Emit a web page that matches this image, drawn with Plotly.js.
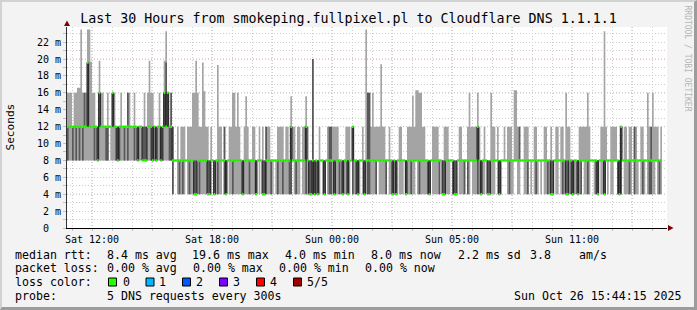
<!DOCTYPE html>
<html><head><meta charset="utf-8">
<script src="https://cdn.plot.ly/plotly-3.0.1.min.js"></script>
<style>
html,body{margin:0;padding:0;background:#f3f3f3;}
#wrap{position:relative;width:697px;height:310px;}
#chart{width:697px;height:310px;}
#frame{position:absolute;left:0;top:0;width:697px;height:310px;box-sizing:border-box;border-style:solid;border-width:2px 3px 3px 2px;border-color:#d2d2d2 #9c9c9c #9c9c9c #d2d2d2;pointer-events:none;}
</style></head>
<body><div id="wrap"><div id="chart"></div><div id="frame"></div></div>
<script>
// ---- data: 5 sorted DNS ping times per 5-minute step (ms), first step at Sat 10:45 ----
const lo = [
8,8,8,8,8,8,8,8,8,8, 8,8,8,8,8,8,8,8,8,8, 8,8,8,8,8,12,8,8,8,8, 8,8,8,8,8,8,8,8,8,8,
8,8,8,8,8,8,8,8,8,8, 8,8,8,8,8,8,8,8,8,8, 8,8,8,4,8,8,4,4,4,4, 4,8,4,4,4,4,4,4,4,4,
4,4,4,4,4,4,4,8,4,4, 4,4,4,8,4,4,8,4,4,4, 4,4,4,4,4,4,4,4,4,4, 4,4,4,4,8,4,8,4,4,4,
4,4,4,4,8,4,4,4,4,4, 4,4,4,4,4,8,4,4,4,4, 8,4,4,4,4,4,4,4,4,4, 4,4,8,4,4,8,4,4,4,4,
4,4,4,4,4,4,4,4,4,4, 8,4,4,4,4,4,8,4,4,4, 4,4,4,4,4,4,8,4,4,4, 4,4,8,4,4,4,4,4,8,4,
4,4,8,4,4,4,4,4,4,8, 4,4,4,4,4,4,4,4,8,4, 4,4,4,4,8,4,4,4,4,4, 8,4,4,4,8,4,4,4,4,8,
4,4,8,4,4,4,4,4,4,4, 4,8,4,4,4,4,4,8,4,4, 4,8,8,8,4,4,4,4,8,8, 4,4,8,8,4,4,4,8,4,8,
4,4,4,8,4,8,4,4,4,4, 4,4,8,4,4,8,4,4,4,4, 4,4,4,4,4,4,4,4,4,8, 4,4,4,4,8,8,4,4,4,8,
4,4,4,8,4,8,4,4,8,8, 4,4,4,8,4,4,4,4,4,8, 4,4,4,8,4,4,4,8,4,4, 4,4,4,8,4,4,4];
const lo2 = [
8,12,12,8,12,8,12,8,12,8, 12,12,12,12,12,12,8,12,8,12, 12,12,12,8,8,12,12,12,12,8, 8,8,12,12,8,12,8,12,12,12,
8,12,8,12,12,8,8,8,12,12, 8,8,12,8,12,12,8,8,12,12, 12,8,8,4,8,8,8,4,8,4, 8,8,8,4,8,8,4,4,8,4,
8,8,8,8,4,4,8,8,4,8, 4,8,8,8,4,4,8,8,8,4, 8,8,8,8,8,4,8,8,8,4, 8,8,8,4,8,8,8,4,4,4,
8,8,4,8,8,8,4,8,8,4, 8,8,8,4,4,8,8,4,8,8, 8,8,8,4,8,4,4,4,4,8, 4,8,8,8,4,8,8,4,4,8,
4,8,8,4,8,4,8,8,4,8, 8,4,8,4,4,8,8,8,4,8, 4,4,8,8,8,4,8,8,8,8, 8,4,8,8,8,4,8,4,8,8,
8,8,8,4,8,8,4,8,8,8, 8,4,8,8,8,8,4,4,8,8, 8,8,8,4,8,4,4,8,8,8, 8,4,4,4,8,8,8,8,4,8,
4,8,8,8,8,8,4,8,4,8, 8,8,4,4,8,8,8,8,8,4, 8,8,8,8,8,4,8,8,8,8, 8,8,8,8,8,8,4,8,8,8,
8,4,8,8,8,8,8,8,4,8, 4,4,8,8,8,8,8,4,8,4, 4,8,4,4,8,8,4,8,4,8, 8,8,4,8,8,8,8,4,4,8,
8,8,4,8,8,8,8,8,8,8, 4,4,4,8,8,8,8,4,8,8, 4,8,8,8,8,4,8,8,8,4, 4,8,8,8,8,4,8];
const med = [
12,12,12,12,12,12,12,12,12,12, 12,12,19.6,12,12,12,12,12,8,16, 12,12,12,12,12,12,12,16,12,12, 8,12,12,12,12,12,12,12,12,12,
12,12,8,12,12,8,8,8,12,12, 12,8,12,8,12,12,8,12,16,12, 16,12,12,8,8,8,8,8,8,8, 8,8,8,8,8,8,4,4,8,8,
8,8,8,8,4,4,8,8,4,8, 8,8,8,8,8,4,8,8,8,8, 8,8,8,8,8,4,8,8,8,8, 8,8,8,4,8,8,8,4,4,8,
8,8,8,8,8,8,8,8,8,8, 8,8,8,8,12,8,8,8,8,8, 8,8,8,12,8,4,4,8,4,8, 4,8,8,8,4,8,8,8,8,8,
4,8,8,8,8,4,8,8,4,8, 8,12,8,8,4,8,8,8,4,8, 8,8,8,8,8,8,8,8,8,8, 8,8,8,8,8,4,8,4,8,8,
8,8,8,4,8,8,8,8,8,8, 8,8,8,8,8,8,8,4,8,8, 8,8,8,8,8,4,4,8,8,8, 8,8,4,4,8,8,8,8,8,8,
8,8,8,8,8,8,12,8,4,8, 8,8,4,4,8,8,8,8,8,4, 8,8,8,8,8,8,8,8,8,8, 8,8,8,8,8,8,8,8,8,8,
8,8,8,8,8,8,8,8,8,8, 4,4,8,8,8,8,8,8,8,4, 4,8,8,4,8,8,4,8,8,8, 8,8,8,8,8,8,8,8,4,8,
8,8,4,8,8,8,8,8,8,8, 8,4,12,8,8,8,8,8,8,8, 8,8,8,8,8,8,8,8,8,8, 8,8,8,8,8,8,8];
const hi2 = [
12,12,12,12,12,12,12,12,12,12, 16,12,19.6,12,12,12,12,12,12,16, 12,12,12,12,12,12,12,16,12,12, 12,12,12,12,12,12,16,12,12,12,
12,12,12,12,12,12,12,12,12,12, 12,12,12,12,12,12,12,12,16,19.6, 16,12,16,12,8,8,8,8,8,8, 8,8,8,8,8,8,8,8,8,8,
8,8,8,8,8,8,8,8,8,8, 8,8,8,8,12,8,8,8,8,8, 8,8,8,8,8,8,8,8,8,8, 8,8,8,8,8,8,8,8,8,12,
8,8,8,8,8,8,8,8,8,8, 8,8,8,8,12,8,8,8,8,8, 8,8,8,12,8,8,8,20,8,8, 8,8,8,8,8,8,8,12,12,8,
8,8,8,8,8,8,8,8,8,8, 8,12,8,8,8,8,8,8,8,8, 16,16,8,8,8,8,8,8,8,8, 8,8,8,8,8,8,8,8,8,8,
8,8,8,8,8,8,8,8,8,8, 8,8,8,8,8,8,8,8,8,8, 8,8,8,8,8,8,8,8,8,8, 8,8,8,8,8,8,8,8,8,8,
8,8,8,8,8,8,12,8,8,8, 8,8,8,8,8,8,8,8,8,8, 8,8,8,8,8,8,8,8,8,8, 8,12,8,8,8,8,8,8,8,8,
8,8,8,8,8,8,8,8,8,8, 8,8,8,8,8,8,8,8,8,8, 8,8,8,8,8,8,8,8,8,8, 8,8,8,8,8,8,8,8,8,8,
8,8,8,8,8,8,8,8,8,8, 8,8,12,8,8,8,8,8,8,8, 12,8,8,8,8,8,8,8,8,8, 12,8,8,8,8,8,8];
const hi = [
16,16,16,12,16,16,16.6,16.6,23.5,16, 16,16,23.5,23.5,19.7,16,16,12,12,19.8, 16,16,12,12,16,12,12,16,16,12, 12,12,16,12,12,12,16,16,12,12,
16,12,12,12,12,12,16,12,16,19.8, 16,16,12,12,12,16,12,12,19.8,23.3, 16,12,16,12,8,8,12,8,12,12, 12,8,12,12,12,16,16,19.8,16,12,
12,19.6,16.2,12,12,8,12,8,8,8, 19.3,12,12,8,12,8,8,12,12,16, 16,12,16,12,8,8,12,15.6,12,8, 8,12,12,8,8,12,8,12,8,12,
12,12,8,8,8,8,12,12,12,12, 8,12,12,8,15.6,12,12,8,12,12, 8,12,12,15.6,12,8,8,20,8,8, 8,12,8,8,8,8,12,12,12,12,
12,12,12,8,8,8,8,12,12,12, 8,12,8,8,8,8,8,12,8,23.5, 16,16,12,16,12,12,12,12,19.4,12, 12,8,8,12,8,8,8,8,8,12,
12,8,8,8,12,12,12,15.7,12,16.3, 16.3,16,16,12,12,8,8,8,8,12, 12,12,12,8,8,8,12,12,12,8, 8,8,8,8,8,12,12,8,8,8,
12,16,12,12,12,12,16,12,8,8, 12,8,8,8,16,12,12,8,12,8, 8,8,12,8,12,12,12,8,16.3,16.3, 12,12,8,8,12,12,12,8,8,8,
12,12,8,8,8,8,12,12,8,8, 12,8,8,12,12,8,12,12,8,16, 12,12,8,8,8,8,8,12,12,12, 12,12,16,12,8,8,8,8,8,8,
12,12,23.3,12,8,8,12,12,12,12, 8,8,12,8,12,12,8,12,12,8, 12,12,8,8,12,12,8,8,16,12, 12,16,12,12,12,8,12];

const tickHours = [0, 6, 12, 18, 24];
const tickLabels = ['Sat 12:00', 'Sat 18:00', 'Sun 00:00', 'Sun 05:00', 'Sun 11:00'];
const yLabels = ['0\u00a0\u00a0','2\u00a0m','4\u00a0m','6\u00a0m','8\u00a0m','10\u00a0m','12\u00a0m','14\u00a0m','16\u00a0m','18\u00a0m','20\u00a0m','22\u00a0m'];
const lossNames = ['0','1','2','3','4','5/5'];
const lossColors = ['#26ff00','#00b8ff','#0059ff','#7e00ff','#ff0000','#a10000'];

// ---- geometry ----
const W = 697, H = 310, L = 67, R = 667, T = 27, B = 228;
const px = x => (x - L) / (R - L);
const py = y => (B - y) / (B - T);
const t0 = -1.25, step = 5 / 60;
const N = med.length;
const xs = Array.from({length: N + 1}, (_, i) => t0 + i * step);
const ext = a => a.concat([a[a.length - 1]]);

const base = {mode: 'lines', hoverinfo: 'skip', showlegend: false};
const traces = [
  Object.assign({x: xs, y: ext(lo), line: {width: 0, shape: 'hv'}}, base),
  Object.assign({x: xs, y: ext(hi), line: {width: 0, shape: 'hv'}, fill: 'tonexty', fillcolor: '#a4a4a4'}, base),
  Object.assign({x: xs, y: ext(lo2), line: {width: 0, shape: 'hv'}}, base),
  Object.assign({x: xs, y: ext(hi2), line: {width: 0, shape: 'hv'}, fill: 'tonexty', fillcolor: '#585858'}, base),
  Object.assign({x: xs, y: ext(med), line: {width: 1, shape: 'hv', color: '#1e1e1e'}}, base)
];
const gx = [], gy = [];
for (let i = 0; i < N; i++) { gx.push(xs[i], xs[i + 1], null); gy.push(med[i], med[i], null); }
traces.push(Object.assign({x: gx, y: gy, line: {width: 2.5, color: lossColors[0]}, connectgaps: false}, base));

// ---- axes ticks / grid ----
const xTickVals = [], xTickText = [];
for (let h = -1; h <= 28; h++) { xTickVals.push(h); const k = tickHours.indexOf(h); xTickText.push(k >= 0 ? tickLabels[k] : ''); }
const yTickVals = [], yTickText = [];
for (let v = 0; v <= 23; v++) { yTickVals.push(v); yTickText.push(v % 2 === 0 ? yLabels[v / 2] : ''); }

const gray = '#cdcdcd', red = '#e6a0a0', dash = '1px,2px';
const shapes = [];
for (let h = 0; h <= 27; h += 3) shapes.push({type: 'line', xref: 'x', yref: 'paper', x0: h, x1: h, y0: 1, y1: 0, layer: 'between', line: {color: red, width: 1, dash: dash}});
for (let v = 4; v <= 20; v += 4) shapes.push({type: 'line', xref: 'paper', yref: 'y', x0: 0, x1: 1, y0: v, y1: v, layer: 'between', line: {color: red, width: 1, dash: dash}});
// arrows
shapes.push({type: 'path', xref: 'paper', yref: 'paper', layer: 'above', fillcolor: '#7f0000', line: {width: 0},
  path: `M ${px(668)},${py(225)} L ${px(673.5)},${py(228)} L ${px(668)},${py(231)} Z`});
shapes.push({type: 'path', xref: 'paper', yref: 'paper', layer: 'above', fillcolor: '#7f0000', line: {width: 0},
  path: `M ${px(64)},${py(26)} L ${px(67)},${py(20.5)} L ${px(70)},${py(26)} Z`});
// legend colour boxes
const boxX = [108.5, 146, 182.5, 219.5, 256.5, 293.5];
lossColors.forEach((c, k) => shapes.push({type: 'rect', xref: 'paper', yref: 'paper', layer: 'above',
  x0: px(boxX[k]), x1: px(boxX[k] + 8), y0: py(286), y1: py(278), fillcolor: c, line: {color: '#000', width: 1}}));

const mono = 'DejaVu Sans Mono';
const ann = (text, x, y, opts) => Object.assign({text: text, xref: 'paper', yref: 'paper', x: px(x), y: py(y),
  xanchor: 'left', yanchor: 'middle', showarrow: false, borderpad: 0, borderwidth: 0,
  font: {family: mono, size: 11.6, color: '#000'}}, opts || {});
const annotations = [
  ann('Seconds', 10.5, 127, {xanchor: 'center', textangle: -90, font: {family: mono, size: 11.1, color: '#000'}}),
  ann('RRDTOOL / TOBI OETIKER', 687, 58.5, {xanchor: 'center', textangle: 90, font: {family: mono, size: 8, color: '#b5b5b5'}}),
  ann('median rtt:', 15.3, 254.5), ann('8.4 ms avg', 106.5, 254.5), ann('19.6 ms max', 191.8, 254.5),
  ann('4.0 ms min', 285.3, 254.5), ann('8.0 ms now', 371.5, 254.5), ann('2.2 ms sd', 457.5, 254.5),
  ann('3.8', 529.8, 254.5), ann('am/s', 578.5, 254.5),
  ann('packet loss:', 15.3, 268), ann('0.00 % avg', 106.5, 268), ann('0.00 % max', 192.5, 268),
  ann('0.00 % min', 278.5, 268), ann('0.00 % now', 364.5, 268),
  ann('loss color:', 15.3, 282.3),
  ann('probe:', 15.3, 295.5), ann('5 DNS requests every 300s', 106.5, 295.5),
  ann('Sun Oct 26 15:44:15 2025', 681.5, 295.5, {xanchor: 'right'})
];
const lossTextX = [122.5, 158.5, 196, 232.5, 270, 306.5];
lossNames.forEach((n, k) => annotations.push(ann(n, lossTextX[k], 282.3)));

const layout = {
  width: W, height: H,
  margin: {l: L, r: W - R, t: T, b: H - B, pad: 0},
  paper_bgcolor: '#f3f3f3', plot_bgcolor: '#ffffff',
  showlegend: false, hovermode: false,
  title: {text: 'Last 30 Hours from smokeping.fullpixel.pl to Cloudflare DNS 1.1.1.1',
    font: {family: mono, size: 13.3, color: '#000'}, x: 0.5, xref: 'container', xanchor: 'center',
    y: 1 - 18.7 / H, yref: 'container', yanchor: 'middle'},
  xaxis: {range: [t0, t0 + 30], tickmode: 'array', tickvals: xTickVals, ticktext: xTickText,
    showgrid: true, gridcolor: gray, griddash: dash, gridwidth: 1, zeroline: false,
    showline: true, linecolor: '#000', linewidth: 1, ticks: 'outside', ticklen: 2, tickcolor: '#c0c0c0',
    tickfont: {family: mono, size: 10, color: '#000'}, fixedrange: true},
  yaxis: {range: [0, 23.8], tickmode: 'array', tickvals: yTickVals, ticktext: yTickText,
    showgrid: true, gridcolor: gray, griddash: dash, gridwidth: 1, zeroline: false,
    showline: true, linecolor: '#333', linewidth: 1, ticks: 'outside', ticklen: 3, tickcolor: '#c0c0c0',
    tickfont: {family: mono, size: 10, color: '#000'}, fixedrange: true},
  shapes: shapes, annotations: annotations
};
Plotly.newPlot('chart', traces, layout, {staticPlot: true, displayModeBar: false});
</script></body></html>
